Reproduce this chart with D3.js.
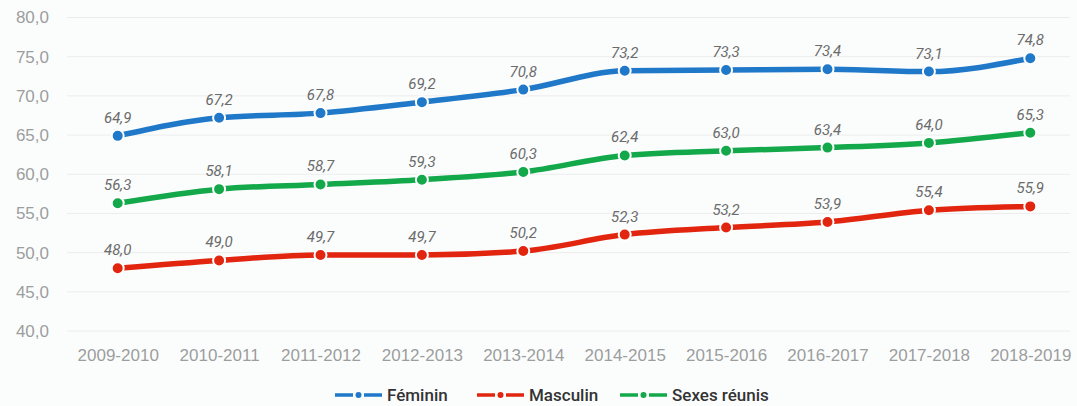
<!DOCTYPE html>
<html><head><meta charset="utf-8">
<script src="https://cdn.jsdelivr.net/npm/d3@7"></script>
<style>
html,body{margin:0;padding:0;background:#fbfdfd;}
svg{display:block;font-family:Roboto, "Noto Sans", sans-serif;}
</style></head>
<body>
<svg id="chart" width="1077" height="406"></svg>
<script>
const categories = ["2009-2010","2010-2011","2011-2012","2012-2013","2013-2014","2014-2015","2015-2016","2016-2017","2017-2018","2018-2019"];
const feminin = [64.9,67.2,67.8,69.2,70.8,73.2,73.3,73.4,73.1,74.8];
const masculin = [48.0,49.0,49.7,49.7,50.2,52.3,53.2,53.9,55.4,55.9];
const sexesReunis = [56.3,58.1,58.7,59.3,60.3,62.4,63.0,63.4,64.0,65.3];
const yTicks = [40,45,50,55,60,65,70,75,80];
const seriesNames = ["Féminin","Masculin","Sexes réunis"];
const colors = ["#1f78c8","#e1250f","#13a84a"];

const svg = d3.select("#chart");
const mLeft = 67, mRight = 1081, mTop = 17.5, mBottom = 331;
const x = d3.scalePoint().domain(categories).range([mLeft, mRight]).padding(0.5);
const y = d3.scaleLinear().domain([40,80]).range([mBottom, mTop]);
const fmt = v => d3.format(".1f")(v).replace(".", ",");

// grid
svg.append("g").selectAll("line").data(yTicks).join("line")
  .attr("x1", mLeft).attr("x2", 1070)
  .attr("y1", d => y(d)).attr("y2", d => y(d))
  .attr("stroke", "#ececec").attr("stroke-width", 1);

// y axis
const yAxis = svg.append("g").attr("transform", `translate(${mLeft-15},0)`)
  .call(d3.axisLeft(y).tickValues(yTicks).tickFormat(fmt).tickSize(0));
yAxis.select(".domain").remove();
yAxis.selectAll("text").attr("fill", "#9d9d9d").style("font-size", "17px").attr("dx", 0);

// x axis
const xAxis = svg.append("g").attr("transform", `translate(0,${mBottom+15})`)
  .call(d3.axisBottom(x).tickSize(0));
xAxis.select(".domain").remove();
xAxis.selectAll("text").attr("fill", "#9d9d9d").style("font-size", "17px").attr("dy", "0.71em");

const data = [feminin, masculin, sexesReunis];
const line = d3.line().x((d,i) => x(categories[i])).y(d => y(d)).curve(d3.curveMonotoneX);

data.forEach((vals, s) => {
  const g = svg.append("g");
  g.append("path").datum(vals).attr("d", line)
    .attr("fill", "none").attr("stroke", colors[s]).attr("stroke-width", 5.5);
  g.selectAll("circle").data(vals).join("circle")
    .attr("cx", (d,i) => x(categories[i])).attr("cy", d => y(d)).attr("r", 6)
    .attr("fill", colors[s]).attr("stroke", "#ffffff").attr("stroke-width", 2);
  g.selectAll("text").data(vals).join("text")
    .attr("x", (d,i) => x(categories[i])).attr("y", d => y(d) - 13)
    .attr("text-anchor", "middle").attr("fill", "#6b6b6b")
    .style("font-size", "15px").style("font-style", "italic")
    .text(fmt);
});

// legend
const legendItems = [{x:335},{x:477},{x:620}];
const lg = svg.append("g");
seriesNames.forEach((name, i) => {
  const lx = legendItems[i].x, ly = 395;
  const g = lg.append("g");
  g.append("line").attr("x1", lx).attr("x2", lx+18).attr("y1", ly).attr("y2", ly)
    .attr("stroke", colors[i]).attr("stroke-width", 3.5);
  g.append("line").attr("x1", lx+29).attr("x2", lx+47).attr("y1", ly).attr("y2", ly)
    .attr("stroke", colors[i]).attr("stroke-width", 3.5);
  g.append("circle").attr("cx", lx+23.5).attr("cy", ly).attr("r", 3).attr("fill", colors[i]);
  g.append("text").attr("x", lx+52).attr("y", ly).attr("dy", "0.35em")
    .attr("fill", "#333").style("font-size", "17px").style("font-weight", "500")
    .text(name);
});
</script>
</body></html>
